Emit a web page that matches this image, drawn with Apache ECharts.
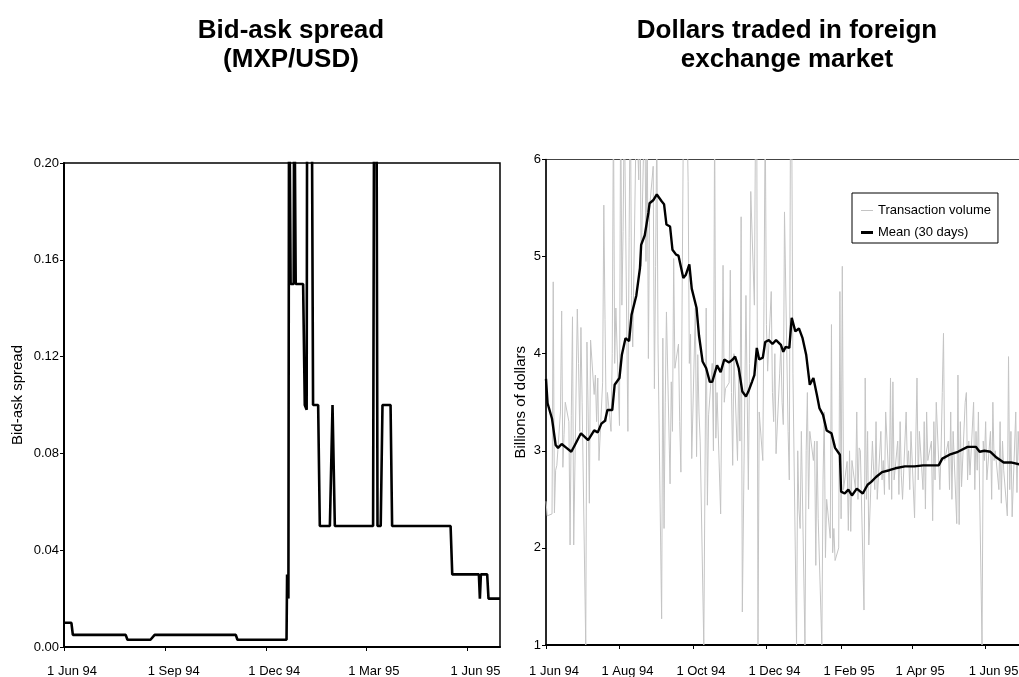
<!DOCTYPE html>
<html><head><meta charset="utf-8">
<script src="https://cdn.jsdelivr.net/npm/echarts@6/dist/echarts.min.js"></script>
<style>html,body{margin:0;padding:0;background:#fff}#c{width:1019px;height:677px}</style>
</head><body><div id="c"></div>
<script>
// ---- axis ticks (days since 1 Jun 1994) ----
const tickDaysLeft = [0, 92, 183, 273, 365];
const tickLabelsLeft = ['1 Jun 94', '1 Sep 94', '1 Dec 94', '1 Mar 95', '1 Jun 95'];
const tickDaysRight = [0, 61, 122, 183, 245, 304, 365];
const tickLabelsRight = ['1 Jun 94', '1 Aug 94', '1 Oct 94', '1 Dec 94', '1 Feb 95', '1 Apr 95', '1 Jun 95'];

// ---- bid-ask spread (MXP/USD), change points: day offset since 1 Jun 94 / value ----
const spreadDays = [0, 6.7, 8, 55.8, 57.4, 78.2, 82, 155.4, 156.9, 201.3, 201.8, 203, 203.6, 205, 207.8, 208.2, 209.2, 209.6, 216.3, 217.8, 219.5, 220, 224, 225.3, 229.9, 231.4, 240.5, 242.9, 245, 279.6, 280.6, 282.6, 283.6, 286.5, 288.1, 295.4, 296.8, 349.7, 351.2, 375.3, 376.2, 377.1, 382.8, 384, 394.4];
const spreadValues = [0.010, 0.010, 0.005, 0.005, 0.003, 0.003, 0.005, 0.005, 0.003, 0.003, 0.030, 0.020, 0.25, 0.15, 0.15, 0.25, 0.25, 0.15, 0.15, 0.10, 0.098, 0.25, 0.25, 0.10, 0.10, 0.05, 0.05, 0.10, 0.05, 0.05, 0.25, 0.25, 0.05, 0.05, 0.10, 0.10, 0.05, 0.05, 0.03, 0.03, 0.02, 0.03, 0.03, 0.02, 0.02];

// ---- daily transaction volume (billions USD), one value per business day ----
const vol_1994_06 = [2.48,2.33,2.33,2.35,4.74,2.36,2.8,2.85,3.4,4.44,2.83,3.17,3.5,3.3,2.03,3.36,4.38,2.03,4.46,3.9,3.2,4.27];
const vol_1994_07 = [3.5,1.0,4.12,3.4,2.46,4.14,3.58,3.78,3.3,3.75,2.9,3.7,5.53,4.35,3.3,3.6,3.2,4.0,6.6,3.9,4.47];
const vol_1994_08 = [3.26,6.8,4.5,5.26,6.6,3.2,5.2,6.9,4.6,4.07,6.5,6.2,5.79,6.8,4.9,6.7,4.95,6.5,3.95,5.5,5.93,3.64,4.9];
const vol_1994_09 = [6.4,4.1,1.27,4.16,2.2,3.5,4.43,2.66,3.71,3.2,4.98,3.85,4.1,3.3,2.78,2.79,6.3,6.5,5.77,3.9,4.2,2.92];
const vol_1994_10 = [4.47,2.94,3.99,3.4,3.1,1.0,2.75,4.47,2.44,3.37,3.9,3.0,6.5,3.13,3.6,2.35,2.34,4.91,3.5,3.64,3.7];
const vol_1994_11 = [4.86,3.6,2.85,4.0,2.9,3.8,3.1,5.41,1.34,4.6,4.6,2.6,3.9,5.67,4.5,6.5,6.4,1.0,3.4,2.9,4.54,6.5];
const vol_1994_12 = [4.3,3.82,4.64,3.6,3.3,4.0,2.97,3.8,4.1,3.5,3.27,5.46,3.2,2.7,6.6,6.4,3.8,1.0,3.0,2.4,2.2,3.2];
const vol_1995_01 = [1.0,3.0,3.6,2.4,3.2,2.9,3.1,1.82,3.1,2.3,1.0,2.7,3.4,1.9,2.5,2.1,4.3,1.95,2.2,1.87,2.0,4.64];
const vol_1995_02 = [2.3,4.9,2.6,2.89,2.18,3.0,2.17,2.9,2.6,3.4,2.5,3.03,3.0,1.36,3.75,2.5,3.2,2.03,3.1,2.8];
const vol_1995_03 = [2.6,3.3,2.5,3.2,2.7,2.9,2.55,3.4,2.6,3.75,2.5,3.71,2.7,3.1,2.55,3.3,2.75,2.5,3.4,2.85,3.0,2.6,3.2];
const vol_1995_04 = [2.31,3.1,3.75,2.7,3.2,2.6,3.3,2.4,3.4,2.9,3.1,2.28,3.3,2.7,3.5,2.6,3.0,3.6,4.21,2.9];
const vol_1995_05 = [3.1,2.6,3.4,2.5,3.2,2.25,3.78,2.24,3.3,2.63,3.5,3.6,2.7,3.1,2.75,3.5,2.6,3.2,2.8,3.4,1.0,3.1,2.9];
const vol_1995_06 = [3.3,2.7,3.2,2.5,3.5,2.9,3.0,2.6,3.3,2.46,3.1,2.8,2.33,3.97,2.6,3.2,2.32,3.4,2.57,3.2,2.9,3.3];
const volMonths = [[1994,5,vol_1994_06],[1994,6,vol_1994_07],[1994,7,vol_1994_08],[1994,8,vol_1994_09],[1994,9,vol_1994_10],[1994,10,vol_1994_11],[1994,11,vol_1994_12],[1995,0,vol_1995_01],[1995,1,vol_1995_02],[1995,2,vol_1995_03],[1995,3,vol_1995_04],[1995,4,vol_1995_05],[1995,5,vol_1995_06]];

// ---- 30-day mean, points ----
const meanDays = [0,1.3,5,8,10,13,17,21,24,29,35,40,43,46,49,51,55,57,61,63,66,69,71,75,78,79,82,85,86,89,92,96,98,100,103,105,108,110,114,116,119,121,125,127,130,133,136,138,142,145,148,152,155,157,160,163,166,168,171,173,175,177,180,182,185,188,191,195,197,199,202,204,207,210,213,216,219,222,225,227,230,233,237,240,244,245,248,251,254,258,263,267,270,274,279,285,290,298,306,313,320,326,329,335,342,350,357,360,364,369,374,380,386,393];
const meanValues = [3.74,3.49,3.33,3.06,3.03,3.07,3.03,2.99,3.06,3.18,3.11,3.21,3.19,3.28,3.31,3.42,3.42,3.68,3.75,3.99,4.16,4.13,4.40,4.60,4.88,5.12,5.22,5.45,5.55,5.58,5.64,5.57,5.54,5.33,5.31,5.07,5.02,5.01,4.78,4.81,4.92,4.67,4.47,4.19,3.92,3.85,3.71,3.71,3.88,3.81,3.94,3.91,3.94,3.97,3.85,3.61,3.56,3.61,3.71,3.78,4.06,3.94,3.96,4.12,4.14,4.10,4.14,4.09,4.02,4.07,4.06,4.37,4.23,4.26,4.16,3.99,3.68,3.75,3.57,3.44,3.37,3.21,3.18,3.03,2.96,2.58,2.56,2.60,2.54,2.61,2.56,2.65,2.68,2.73,2.78,2.80,2.82,2.84,2.84,2.85,2.85,2.85,2.92,2.96,2.99,3.04,3.04,2.99,3.00,2.99,2.93,2.88,2.88,2.86];

// ---- build series data ----
const BASE = Date.UTC(1994, 5, 1);
const DAY = 86400000;
const spreadData = spreadDays.map((d, i) => [d, spreadValues[i]]);
const meanData = meanDays.map((d, i) => [d, meanValues[i]]);
const volData = [];
volMonths.forEach(([y, m, vals]) => {
  let k = 0;
  for (let dd = 1; dd <= 31 && k < vals.length; dd++) {
    const t = Date.UTC(y, m, dd);
    const dt = new Date(t);
    if (dt.getUTCMonth() !== m) break;
    const wd = dt.getUTCDay();
    if (wd === 0 || wd === 6) continue;
    volData.push([(t - BASE) / DAY, vals[k++]]);
  }
});

const FONT = '"Liberation Sans", Arial, Helvetica, sans-serif';
const labelFor = (days, labels) => v => { const i = days.indexOf(Math.round(v)); return i >= 0 ? labels[i] : ''; };

const chart = echarts.init(document.getElementById('c'), null, {renderer: 'canvas'});
chart.setOption({
  animation: false,
  backgroundColor: '#fff',
  textStyle: {fontFamily: FONT},
  title: [
    {text: 'Bid-ask spread\n(MXP/USD)', left: 286, top: 11, textAlign: 'center',
     textStyle: {fontSize: 26, fontWeight: 'bold', lineHeight: 29, color: '#000', fontFamily: FONT}},
    {text: 'Dollars traded in foreign\nexchange market', left: 782, top: 11, textAlign: 'center',
     textStyle: {fontSize: 26, fontWeight: 'bold', lineHeight: 29, color: '#000', fontFamily: FONT}}
  ],
  legend: {
    orient: 'vertical', left: 852, top: 193, padding: [10, 7, 3, 9], itemGap: 7,
    itemWidth: 12, itemHeight: 3, borderColor: '#000', borderWidth: 1, backgroundColor: '#fff',
    selectedMode: false,
    textStyle: {fontSize: 13, color: '#000', lineHeight: 15, fontFamily: FONT},
    data: [
      {name: 'Transaction volume', icon: 'path://M0,0H12V1H0Z', itemStyle: {color: '#c4c4c4'}},
      {name: 'Mean (30 days)', icon: 'path://M0,0H12V3H0Z', itemStyle: {color: '#000'}}
    ]
  },
  grid: [
    {left: 64, top: 163, width: 436, height: 484, show: true, borderColor: '#000', borderWidth: 1.5,
     outerBoundsMode: 'none', containLabel: false},
    {left: 546, top: 159.5, width: 481.8, height: 485.5, show: true, borderColor: '#444', borderWidth: 1,
     outerBoundsMode: 'none', containLabel: false}
  ],
  xAxis: [
    {gridIndex: 0, type: 'value', min: 0, max: 394.4, splitLine: {show: false},
     axisLine: {lineStyle: {color: '#000', width: 2}},
     axisTick: {customValues: tickDaysLeft, length: 4, lineStyle: {color: '#000', width: 1}},
     axisLabel: {customValues: tickDaysLeft, formatter: labelFor(tickDaysLeft, tickLabelsLeft),
       fontSize: 13, color: '#000', margin: 18, padding: [0, 0, 0, 16], fontFamily: FONT}},
    {gridIndex: 1, type: 'value', min: 0, max: 400, splitLine: {show: false},
     axisLine: {lineStyle: {color: '#000', width: 2}},
     axisTick: {customValues: tickDaysRight, length: 4, lineStyle: {color: '#000', width: 1}},
     axisLabel: {customValues: tickDaysRight, formatter: labelFor(tickDaysRight, tickLabelsRight),
       fontSize: 13, color: '#000', margin: 20, padding: [0, 0, 0, 16], fontFamily: FONT}}
  ],
  yAxis: [
    {gridIndex: 0, type: 'value', min: 0, max: 0.2, interval: 0.04, splitLine: {show: false},
     axisLine: {show: true, lineStyle: {color: '#000', width: 2}},
     axisTick: {show: true, length: 4, lineStyle: {color: '#000'}},
     axisLabel: {formatter: v => v.toFixed(2), fontSize: 13, color: '#000', margin: 5, fontFamily: FONT},
     name: 'Bid-ask spread', nameLocation: 'middle', nameGap: 39,
     nameTextStyle: {fontSize: 15, color: '#000', padding: [0, 0, 0, 20], fontFamily: FONT}},
    {gridIndex: 1, type: 'value', min: 1, max: 6, interval: 1, splitLine: {show: false},
     axisLine: {show: true, lineStyle: {color: '#000', width: 1.5}},
     axisTick: {show: true, length: 4, lineStyle: {color: '#000'}},
     axisLabel: {fontSize: 13, color: '#000', margin: 5, fontFamily: FONT},
     name: 'Billions of dollars', nameLocation: 'middle', nameGap: 18,
     nameTextStyle: {fontSize: 15, color: '#000', fontFamily: FONT}}
  ],
  series: [
    {name: 'Bid-ask spread', type: 'line', xAxisIndex: 0, yAxisIndex: 0, data: spreadData,
     showSymbol: false, clip: true, lineStyle: {color: '#000', width: 2.6}, itemStyle: {color: '#000'}},
    {name: 'Transaction volume', type: 'line', xAxisIndex: 1, yAxisIndex: 1, data: volData,
     showSymbol: false, clip: true, lineStyle: {color: '#c4c4c4', width: 1}, itemStyle: {color: '#c4c4c4'}, z: 2},
    {name: 'Mean (30 days)', type: 'line', xAxisIndex: 1, yAxisIndex: 1, data: meanData,
     showSymbol: false, clip: true, lineStyle: {color: '#000', width: 2.4}, itemStyle: {color: '#000'}, z: 3}
  ]
});
</script></body></html>
